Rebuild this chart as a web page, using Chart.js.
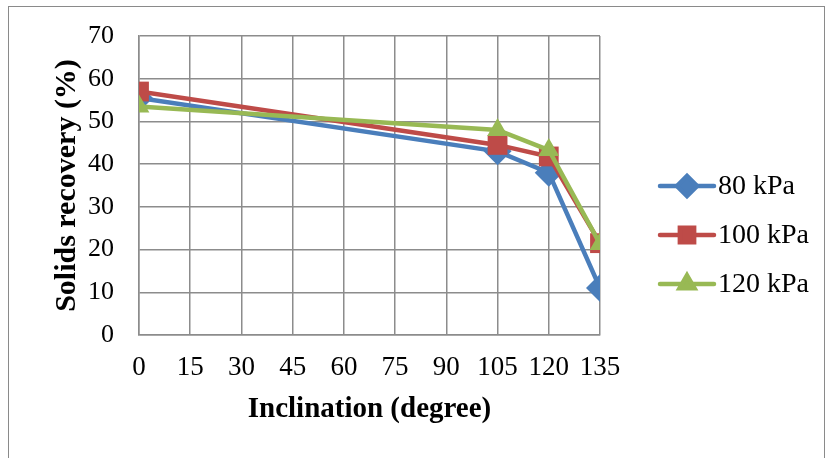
<!DOCTYPE html>
<html>
<head>
<meta charset="utf-8">
<script src="https://cdn.jsdelivr.net/npm/chart.js@4/dist/chart.umd.min.js"></script>
<style>
  html, body { margin: 0; padding: 0; background: #fff; }
  #wrap { position: relative; width: 831px; height: 458px; overflow: hidden; }
  #frame { position: absolute; left: 8px; top: 6px; width: 817px; height: 470px; border: 1.5px solid #8a8a8a; box-sizing: border-box; }
  canvas { position: absolute; left: 0; top: 0; }
</style>
</head>
<body>
<div id="wrap">
  <div id="frame"></div>
  <canvas id="chart" width="831" height="458"></canvas>
</div>
<script>
// Datos
const inclination = [0, 105, 120, 135];
const rec80 = [55.5, 43, 38, 11];
const rec100 = [57, 44.5, 41.8, 21.5];
const rec120 = [53.5, 48, 43.3, 21.3];
const xTicks = [0, 15, 30, 45, 60, 75, 90, 105, 120, 135];

const FONT = '"Liberation Serif", "Times New Roman", serif';
const GRID = '#8c8c8c';

function toPoints(ys) {
  return inclination.map((x, i) => ({ x: x, y: ys[i] }));
}

// Leyenda lateral: línea con marcador, estilo Excel
const sideLegend = {
  id: 'sideLegend',
  afterDraw(chart) {
    const ctx = chart.ctx;
    const x0 = chart.chartArea.right + 60;
    const startY = 186;
    chart.data.datasets.forEach((ds, i) => {
      const y = startY + i * 49;
      ctx.save();
      ctx.strokeStyle = ds.borderColor;
      ctx.lineWidth = 4.5;
      ctx.lineCap = 'round';
      ctx.beginPath();
      ctx.moveTo(x0, y);
      ctx.lineTo(x0 + 54, y);
      ctx.stroke();
      ctx.fillStyle = ds.pointBackgroundColor;
      ctx.strokeStyle = ds.pointBackgroundColor;
      Chart.helpers.drawPoint(ctx, {
        pointStyle: ds.pointStyle,
        radius: ds.pointRadius * 0.72,
        rotation: 0,
        borderWidth: 0.01
      }, x0 + 27, y);
      ctx.fillStyle = '#000';
      ctx.font = '28px ' + FONT;
      ctx.textBaseline = 'middle';
      ctx.textAlign = 'left';
      ctx.fillText(ds.label, x0 + 58, y + 1);
      ctx.restore();
    });
  }
};

const ctx = document.getElementById('chart').getContext('2d');
new Chart(ctx, {
  type: 'line',
  data: {
    datasets: [
      {
        label: '80 kPa',
        data: toPoints(rec80),
        borderColor: '#4a7ebb',
        backgroundColor: '#4a7ebb',
        pointBackgroundColor: '#4a7ebb',
        pointBorderColor: '#4a7ebb',
        borderWidth: 4.5,
        pointStyle: 'rectRot',
        pointRadius: 14,
        pointBorderWidth: 0,
        order: 3
      },
      {
        label: '100 kPa',
        data: toPoints(rec100),
        borderColor: '#be4b48',
        backgroundColor: '#be4b48',
        pointBackgroundColor: '#be4b48',
        pointBorderColor: '#be4b48',
        borderWidth: 4.5,
        pointStyle: 'rect',
        pointRadius: 14,
        pointBorderWidth: 0,
        order: 2
      },
      {
        label: '120 kPa',
        data: toPoints(rec120),
        borderColor: '#98b954',
        backgroundColor: '#98b954',
        pointBackgroundColor: '#98b954',
        pointBorderColor: '#98b954',
        borderWidth: 4.5,
        pointStyle: 'triangle',
        pointRadius: 12,
        pointBorderWidth: 0,
        order: 1
      }
    ]
  },
  options: {
    responsive: false,
    animation: false,
    layout: { padding: { top: 36, right: 231, bottom: 27, left: 49 } },
    plugins: {
      legend: { display: false },
      tooltip: { enabled: false }
    },
    scales: {
      x: {
        type: 'linear',
        min: 0,
        max: 135,
        afterBuildTicks: (scale) => { scale.ticks = xTicks.map(v => ({ value: v })); },
        afterFit: (scale) => { scale.height = 96; },
        ticks: { color: '#000', font: { family: FONT, size: 27 }, padding: 17, maxRotation: 0, autoSkip: false },
        grid: { color: GRID, lineWidth: 1.5, drawTicks: false },
        border: { color: GRID, width: 1.5 },
        title: { display: true, text: 'Inclination (degree)', color: '#000', font: { family: FONT, size: 29, weight: 'bold' }, padding: { top: 4, bottom: 4 } }
      },
      y: {
        min: 0,
        max: 70,
        afterFit: (scale) => {
          scale.width = 90;
          scale.paddingTop = 0;
          scale.paddingBottom = 0;
        },
        ticks: { stepSize: 10, color: '#000', font: { family: FONT, size: 26 }, padding: 25 },
        grid: { color: GRID, lineWidth: 1.5, drawTicks: false },
        border: { color: GRID, width: 1.5 },
        title: { display: true, text: 'Solids recovery (%)', color: '#000', font: { family: FONT, size: 30, weight: 'bold' }, padding: 0 }
      }
    }
  },
  plugins: [sideLegend]
});
</script>
</body>
</html>
